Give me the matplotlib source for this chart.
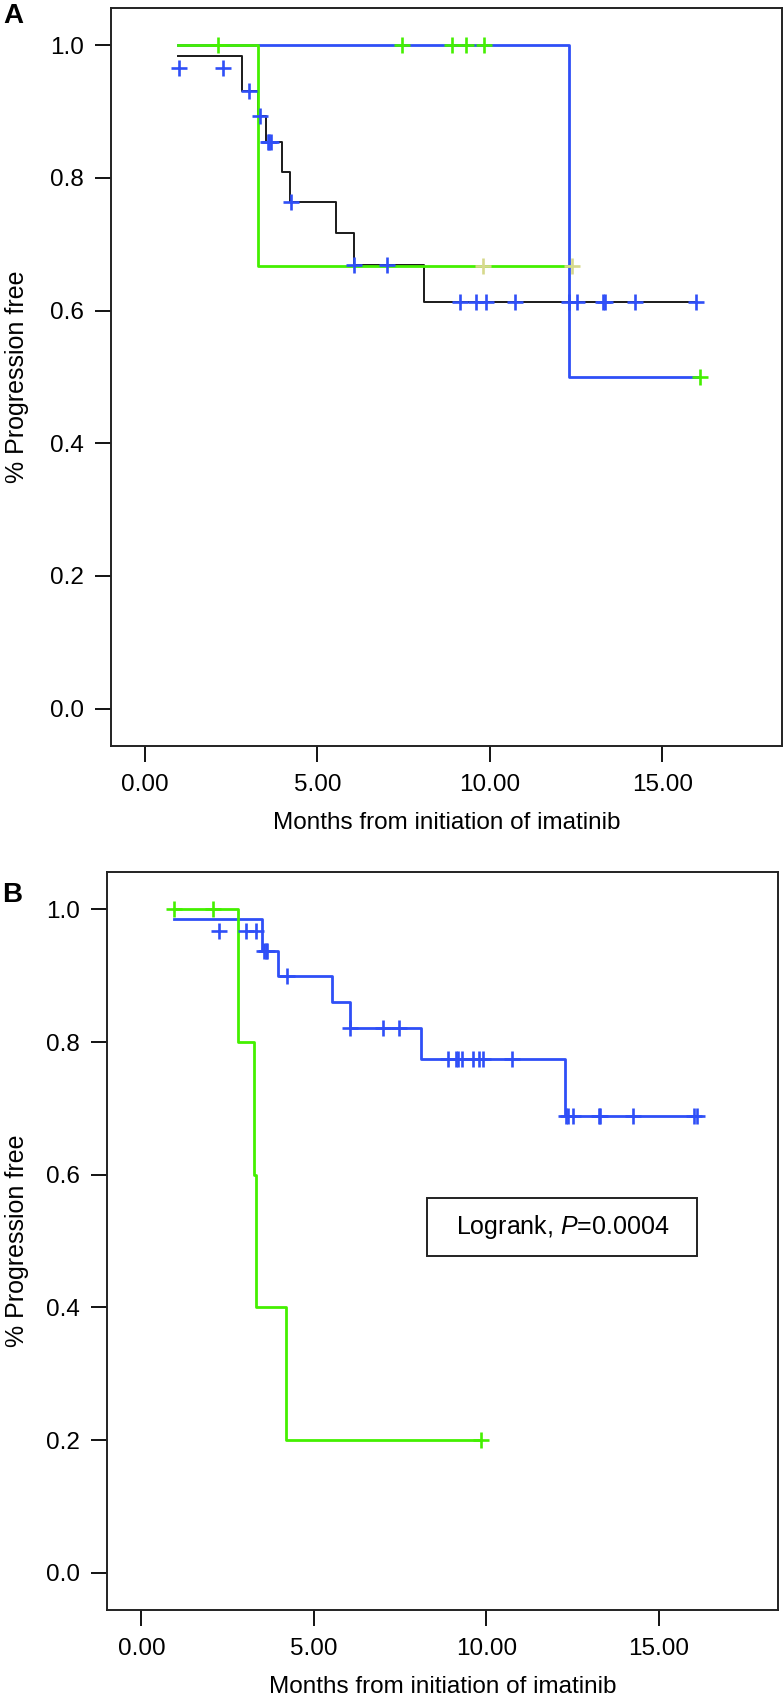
import matplotlib
matplotlib.use("Agg")
import matplotlib.pyplot as plt
from matplotlib.patches import Rectangle

plt.rcParams['font.family'] = ['Liberation Sans', 'DejaVu Sans']
plt.rcParams['mathtext.fontset'] = 'custom'
plt.rcParams['mathtext.rm'] = 'Liberation Sans'
plt.rcParams['mathtext.it'] = 'Liberation Sans:italic'

BLUE = '#2f4ff7'
GREEN = '#44f000'
KHAKI = '#d6d98c'
BLACK = '#1a1a1a'

x_ticks = [0, 5, 10, 15]
x_tick_labels = ['0.00', '5.00', '10.00', '15.00']
y_ticks = [0.0, 0.2, 0.4, 0.6, 0.8, 1.0]
y_tick_labels = ['0.0', '0.2', '0.4', '0.6', '0.8', '1.0']

# ---- Panel A ----
a_black_t = [0.94, 2.80, 3.26, 3.50, 3.96, 4.20, 5.54, 6.06, 8.10, 15.97]
a_black_s = [0.983, 0.931, 0.893, 0.854, 0.809, 0.764, 0.717, 0.669, 0.613, 0.613]
a_black_cens_t = [0.99, 2.26, 3.01, 3.33, 3.55, 3.60, 3.65, 4.22, 6.06, 7.02,
                  9.13, 9.61, 9.90, 10.72, 12.30, 12.52, 13.27, 13.33, 14.22, 15.97]
a_black_cens_s = [0.966, 0.966, 0.931, 0.893, 0.854, 0.854, 0.854, 0.764, 0.669, 0.669,
                  0.613, 0.613, 0.613, 0.613, 0.613, 0.613, 0.613, 0.613, 0.613, 0.613]

a_blue_t = [0.94, 12.30, 16.05]
a_blue_s = [1.0, 0.5, 0.5]

a_green_t = [0.94, 3.26, 12.39]
a_green_s = [1.0, 0.667, 0.667]
a_green_cens_t = [2.10, 7.46, 8.89, 9.32, 9.83, 16.09]
a_green_cens_s = [1.0, 1.0, 1.0, 1.0, 1.0, 0.5]
a_khaki_cens_t = [9.79, 12.39]
a_khaki_cens_s = [0.667, 0.667]

# ---- Panel B ----
b_blue_t = [0.94, 3.51, 3.95, 5.52, 6.05, 8.10, 12.29, 16.12]
b_blue_s = [0.985, 0.937, 0.899, 0.860, 0.821, 0.775, 0.688, 0.688]
b_blue_cens_t = [2.25, 3.02, 3.31, 3.55, 3.60, 3.65, 4.21, 6.06, 7.02, 7.47,
                 8.90, 9.13, 9.17, 9.31, 9.63, 9.80, 9.92, 10.75,
                 12.31, 12.37, 12.52, 13.26, 13.29, 14.25, 16.02, 16.12]
b_blue_cens_s = [0.968, 0.968, 0.968, 0.937, 0.937, 0.937, 0.899, 0.821, 0.821, 0.821,
                 0.775, 0.775, 0.775, 0.775, 0.775, 0.775, 0.775, 0.775,
                 0.688, 0.688, 0.688, 0.688, 0.688, 0.688, 0.688, 0.688]

b_green_t = [0.94, 2.79, 3.27, 3.32, 4.19, 9.85]
b_green_s = [1.0, 0.8, 0.6, 0.4, 0.2, 0.2]
b_green_cens_t = [0.94, 2.08, 9.85]
b_green_cens_s = [1.0, 1.0, 0.2]


def censor(ax, t, s, color):
    ax.plot(t, s, linestyle='none', marker='+', ms=11, mew=1.9, color=color, zorder=5)


def style_axes(ax, ylabel_x):
    ax.set_xlim(-0.99, 18.47)
    ax.set_ylim(-0.056, 1.056)
    ax.set_xticks(x_ticks)
    ax.set_xticklabels(x_tick_labels)
    ax.set_yticks(y_ticks)
    ax.set_yticklabels(y_tick_labels)
    ax.tick_params(axis='both', direction='out', length=11.5, width=1.3,
                   labelsize=17.5, colors='black')
    ax.tick_params(axis='x', pad=9)
    ax.tick_params(axis='y', pad=8)
    for sp in ax.spines.values():
        sp.set_linewidth(1.4)
        sp.set_color('#222222')
    ax.set_xlabel('Months from initiation of imatinib', fontsize=17.5)
    ax.set_ylabel('% Progression free', fontsize=18)
    ax.xaxis.set_label_coords(0.5, -0.090)
    ax.yaxis.set_label_coords(ylabel_x, 0.5)


fig = plt.figure(figsize=(7.83, 17.01), dpi=100)

# Panel A
axA = fig.add_axes([0.1418, 0.5616, 0.8566, 0.4337])
axA.step(a_black_t, a_black_s, where='post', color=BLACK, lw=1.4)
axA.step(a_blue_t, a_blue_s, where='post', color=BLUE, lw=2.0)
axA.step(a_green_t, a_green_s, where='post', color=GREEN, lw=2.0)
censor(axA, a_black_cens_t, a_black_cens_s, BLUE)
censor(axA, a_green_cens_t, a_green_cens_s, GREEN)
censor(axA, a_khaki_cens_t, a_khaki_cens_s, KHAKI)
style_axes(axA, -0.122)

# Panel B
axB = fig.add_axes([0.1370, 0.0535, 0.8570, 0.4337])
axB.step(b_blue_t, b_blue_s, where='post', color=BLUE, lw=2.0)
axB.step(b_green_t, b_green_s, where='post', color=GREEN, lw=2.0)
censor(axB, b_blue_cens_t, b_blue_cens_s, BLUE)
censor(axB, b_green_cens_t, b_green_cens_s, GREEN)
style_axes(axB, -0.117)

# logrank box
axB.add_patch(Rectangle((0.4771, 0.4799), 0.4017, 0.0782, transform=axB.transAxes,
                        fill=False, edgecolor='#222222', lw=1.4, zorder=6))
axB.text(0.678, 0.519, r'Logrank, $\mathit{P}$=0.0004', transform=axB.transAxes,
         ha='center', va='center', fontsize=18, zorder=7)

# panel letters
fig.text(0.004, 1 - 23 / 1701, 'A', fontsize=20, fontweight='bold', va='baseline')
fig.text(0.003, 1 - 902 / 1701, 'B', fontsize=20, fontweight='bold', va='baseline')

fig.savefig('out.png', dpi=100)
